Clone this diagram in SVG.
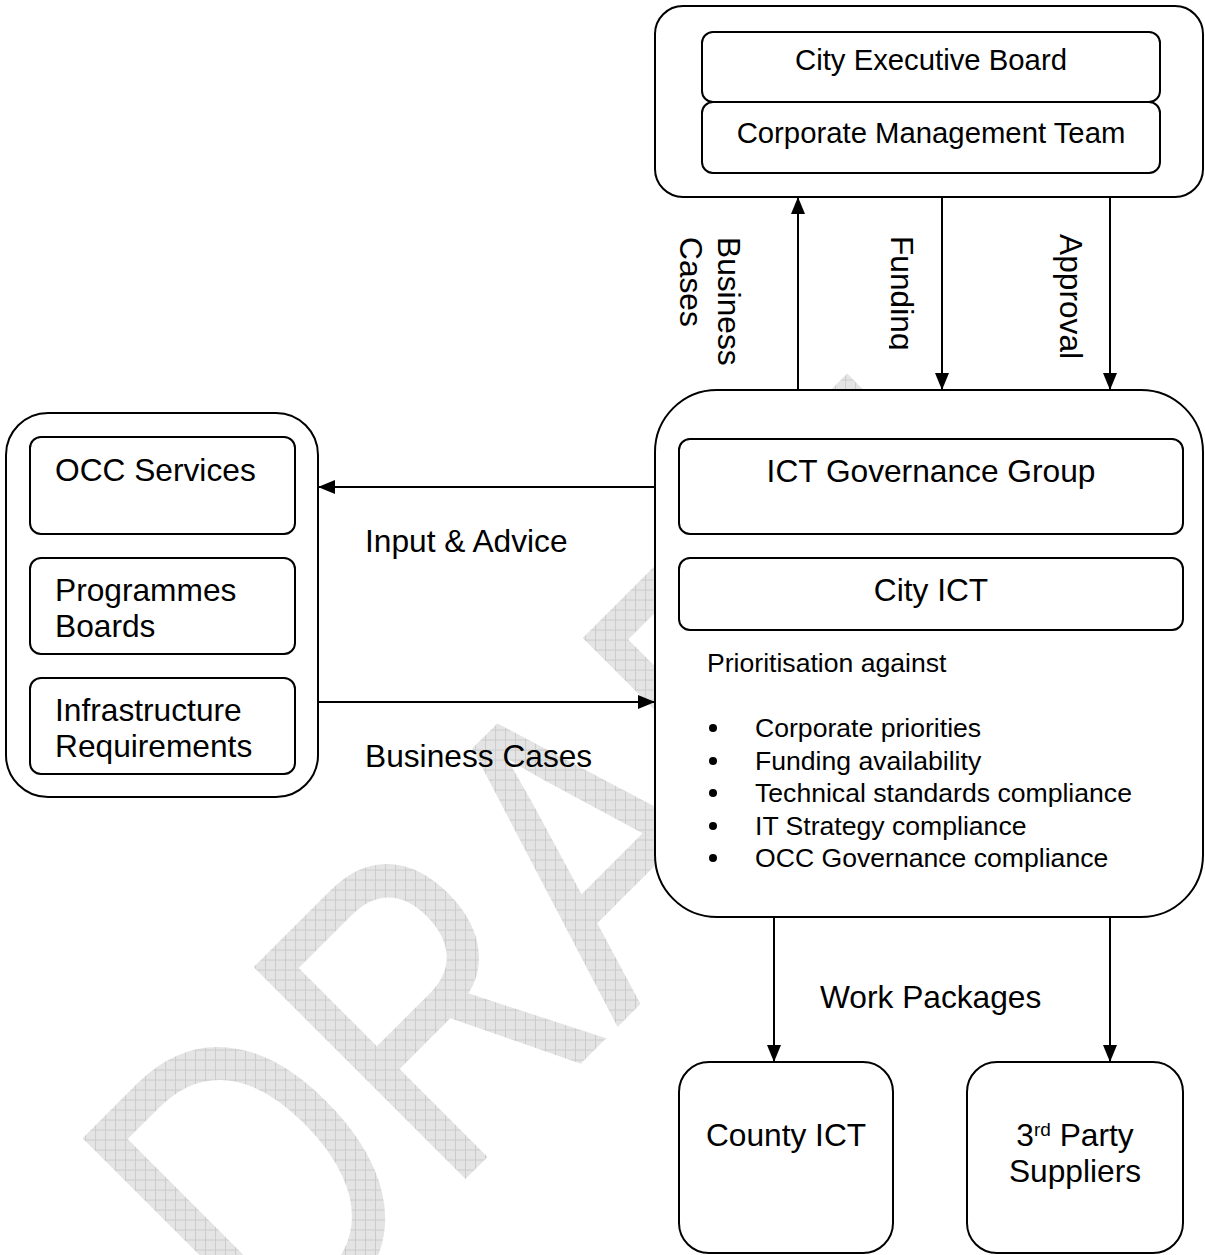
<svg xmlns="http://www.w3.org/2000/svg" width="1205" height="1255" viewBox="0 0 1205 1255">
<style>
text{font-family:"Liberation Sans",Arial,sans-serif;fill:#000}
.box{fill:#fff;stroke:#000;stroke-width:2}
.t31{font-size:31.7px}
.t29{font-size:29.3px}
.t26{font-size:26.6px}
.c{text-anchor:middle}
.conn{stroke:#000;stroke-width:2;fill:none;marker-end:url(#ah)}
</style>
<defs>
<marker id="ah" viewBox="0 0 17 14" refX="17" refY="7" markerWidth="17" markerHeight="14" markerUnits="userSpaceOnUse" orient="auto">
<path d="M0,0 L17,7 L0,14 z" fill="#000"/>
</marker>
<pattern id="grid" width="10" height="10" patternUnits="userSpaceOnUse" patternTransform="scale(1 0.769) rotate(45)">
<rect width="10" height="10" fill="#e4e4e4"/>
<path d="M0,0.5 H10 M0.5,0 V10" stroke="#cbcbcb" stroke-width="1"/>
</pattern>
<clipPath id="fundclip"><rect x="889" y="220" width="40" height="150"/></clipPath>
</defs>

<g id="watermark">
<text x="0" y="0" transform="translate(275 1369.5) rotate(-45) scale(1 1.3)" style="font-size:335px;fill:url(#grid)">DRAFT</text>
</g>

<g id="executive">
<rect class="box" x="655" y="6" width="548" height="191" rx="28"/>
<rect class="box" x="702" y="32" width="458" height="70" rx="11"/>
<text class="t29 c" x="931" y="70">City Executive Board</text>
<rect class="box" x="702" y="102" width="458" height="71" rx="11"/>
<text class="t29 c" x="931" y="143">Corporate Management Team</text>
</g>

<g id="occ">
<rect class="box" x="6" y="413" width="312" height="384" rx="42"/>
<rect class="box" x="30" y="437" width="265" height="97" rx="11"/>
<text class="t31" x="55" y="481">OCC Services</text>
<rect class="box" x="30" y="558" width="265" height="96" rx="11"/>
<text class="t31" x="55" y="601">Programmes</text>
<text class="t31" x="55" y="637">Boards</text>
<rect class="box" x="30" y="678" width="265" height="96" rx="11"/>
<text class="t31" x="55" y="721">Infrastructure</text>
<text class="t31" x="55" y="757">Requirements</text>
</g>

<g id="ict">
<rect class="box" x="655" y="390" width="548" height="527" rx="62"/>
<rect class="box" x="679" y="439" width="504" height="95" rx="11"/>
<text class="t31 c" x="931" y="482">ICT Governance Group</text>
<rect class="box" x="679" y="558" width="504" height="72" rx="11"/>
<text class="t31 c" x="931" y="601">City ICT</text>
<text class="t26" x="707" y="672">Prioritisation against</text>
<g class="t26">
<circle cx="713" cy="728" r="4"/><text class="t26" x="755" y="737">Corporate priorities</text>
<circle cx="713" cy="761" r="4"/><text class="t26" x="755" y="770">Funding availability</text>
<circle cx="713" cy="793" r="4"/><text class="t26" x="755" y="802">Technical standards compliance</text>
<circle cx="713" cy="826" r="4"/><text class="t26" x="755" y="835">IT Strategy compliance</text>
<circle cx="713" cy="858" r="4"/><text class="t26" x="755" y="867">OCC Governance compliance</text>
</g>
</g>

<g id="county">
<rect class="box" x="679" y="1062" width="214" height="191" rx="30"/>
<text class="t31 c" x="786" y="1146">County ICT</text>
</g>

<g id="suppliers">
<rect class="box" x="967" y="1062" width="216" height="191" rx="30"/>
<text class="t31 c" x="1075" y="1146">3<tspan baseline-shift="super" style="font-size:19px">rd</tspan> Party</text>
<text class="t31 c" x="1075" y="1182">Suppliers</text>
</g>

<g id="connectors">
<line class="conn" x1="798" y1="390" x2="798" y2="197"/>
<line class="conn" x1="942" y1="197" x2="942" y2="390"/>
<line class="conn" x1="1110" y1="197" x2="1110" y2="390"/>
<line class="conn" x1="655" y1="487" x2="318" y2="487"/>
<line class="conn" x1="318" y1="702" x2="655" y2="702"/>
<line class="conn" x1="774" y1="917" x2="774" y2="1062"/>
<line class="conn" x1="1110" y1="917" x2="1110" y2="1062"/>
<text class="t31" transform="translate(718 237) rotate(90)">Business</text>
<text class="t31" transform="translate(680 237) rotate(90)">Cases</text>
<g clip-path="url(#fundclip)"><text class="t31" transform="translate(891 236) rotate(90)">Funding</text></g>
<text class="t31" transform="translate(1060 234) rotate(90)">Approval</text>
<text class="t31" x="365" y="552">Input &amp; Advice</text>
<text class="t31" x="365" y="767">Business Cases</text>
<text class="t31" x="820" y="1008">Work Packages</text>
</g>
</svg>
